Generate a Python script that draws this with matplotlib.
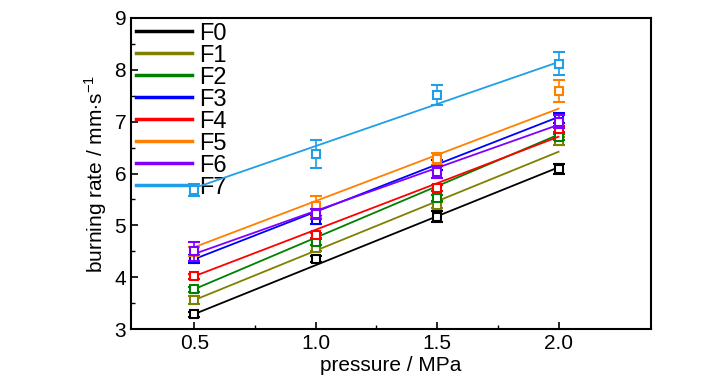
import numpy as np
import matplotlib.pyplot as plt

plt.rcParams['font.family'] = ['Liberation Sans', 'DejaVu Sans']
plt.rcParams['mathtext.fontset'] = 'custom'
plt.rcParams['mathtext.rm'] = 'Liberation Sans'

# pressure (MPa)
pressure = [0.5, 1.0, 1.5, 2.0]

labels = ['F0', 'F1', 'F2', 'F3', 'F4', 'F5', 'F6', 'F7']
colors = ['#000000', '#808000', '#008000', '#0000FF',
          '#FF0000', '#FF8000', '#8000FF', '#1E9FE6']

# measured burning rates (mm/s)
F0 = [3.29, 4.35, 5.17, 6.09]
F1 = [3.56, 4.56, 5.40, 6.63]
F2 = [3.77, 4.68, 5.53, 6.71]
F3 = [4.35, 5.10, 6.17, 7.07]
F4 = [4.02, 4.81, 5.72, 6.86]
F5 = [4.50, 5.37, 6.28, 7.59]
F6 = [4.50, 5.22, 6.03, 7.00]
F7 = [5.68, 6.38, 7.52, 8.12]
rates = [F0, F1, F2, F3, F4, F5, F6, F7]

# error bars
err_F0 = [0.05, 0.06, 0.10, 0.10]
err_F1 = [0.08, 0.06, 0.06, 0.08]
err_F2 = [0.05, 0.05, 0.06, 0.06]
err_F3 = [0.08, 0.08, 0.10, 0.10]
err_F4 = [0.05, 0.05, 0.06, 0.06]
err_F5 = [0.08, 0.20, 0.12, 0.22]
err_F6 = [0.18, 0.10, 0.12, 0.12]
err_F7 = [0.12, 0.27, 0.19, 0.22]
errors = [err_F0, err_F1, err_F2, err_F3, err_F4, err_F5, err_F6, err_F7]

# linear fit lines, value at 0.5 MPa and at 2.0 MPa
fit_lo = [3.29, 3.56, 3.77, 4.35, 4.02, 4.58, 4.45, 5.72]
fit_hi = [6.12, 6.42, 6.75, 7.09, 6.71, 7.25, 6.94, 8.15]

fig = plt.figure(figsize=(7.28, 3.9), dpi=100)
ax = fig.add_axes([0.18, 0.156, 0.714, 0.798])

for i in range(len(labels)):
    c = colors[i]
    ax.plot([pressure[0], pressure[-1]], [fit_lo[i], fit_hi[i]], color=c,
            lw=1.3, label=labels[i], zorder=2 + i)
    ax.errorbar(pressure, rates[i], yerr=errors[i], fmt='s', mfc='white',
                mec=c, ecolor=c, ms=5.5, mew=1.5, elinewidth=1.2, capsize=4,
                capthick=1.2, zorder=3 + i)

ax.set_xlim(0.24, 2.38)
ax.set_ylim(3, 9)
ax.set_xticks([0.5, 1.0, 1.5, 2.0])
ax.set_xticks([0.75, 1.25, 1.75], minor=True)
ax.set_yticks(range(3, 10))
ax.set_yticks(np.arange(3.5, 9, 1.0), minor=True)
ax.tick_params(direction='in', which='major', length=5, width=1.2, labelsize=15)
ax.tick_params(direction='in', which='minor', length=3, width=1.0)
for s in ax.spines.values():
    s.set_linewidth(1.5)

ax.set_xlabel('pressure / MPa', fontsize=15, labelpad=2)
ax.set_ylabel('burning rate / mm$\\cdot$s$^{-1}$', fontsize=15, labelpad=4)

leg = ax.legend(loc='upper left', frameon=False, fontsize=17, handlelength=2.4,
                handletextpad=0.3, labelspacing=0.0, borderaxespad=0.1,
                borderpad=0.1)
for line in leg.get_lines():
    line.set_linewidth(2.5)

fig.savefig('out.png', dpi=100)
